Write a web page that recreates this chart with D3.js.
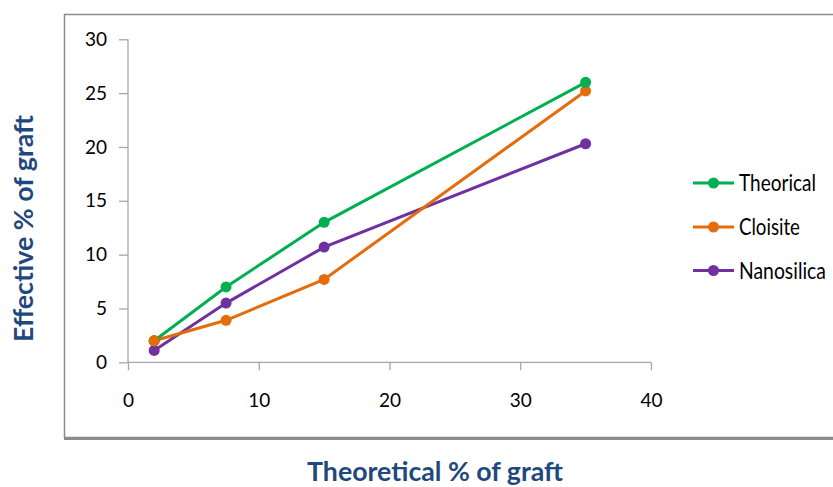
<!DOCTYPE html>
<html>
<head>
<meta charset="utf-8">
<script src="https://cdn.jsdelivr.net/npm/d3@7"></script>
<style>
  body { margin: 0; background: #fff; }
  text { font-family: Lato, "Open Sans", sans-serif; }
</style>
</head>
<body>
<script>
// Data
const xValues = [2, 7.5, 15, 35];
const theorical = [2, 7, 13, 26];
const cloisite = [2, 3.9, 7.7, 25.2];
const nanosilica = [1.1, 5.5, 10.7, 20.3];
const seriesNames = ["Theorical", "Cloisite", "Nanosilica"];
const seriesColors = ["#00b050", "#e46c0a", "#7030a0"];
const xTicks = [0, 10, 20, 30, 40];
const yTicks = [0, 5, 10, 15, 20, 25, 30];

const W = 833, H = 487;
const svg = d3.select("body").append("svg")
  .attr("width", W)
  .attr("height", H);

// squeeze a text horizontally to a given width (the source font is narrow)
function squeeze(sel, width) {
  const natural = sel.node().getComputedTextLength();
  return natural > 0 ? width / natural : 1;
}

// Outer chart box (runs off the right edge like the source)
svg.append("rect")
  .attr("x", 64.5).attr("y", 14.5)
  .attr("width", 800).attr("height", 423)
  .attr("fill", "none")
  .attr("stroke", "#8c8c8c")
  .attr("stroke-width", 1.5);
svg.append("line")
  .attr("x1", 64).attr("x2", W)
  .attr("y1", 438.5).attr("y2", 438.5)
  .attr("stroke", "#8c8c8c")
  .attr("stroke-width", 3);

// Scales
const x = d3.scaleLinear().domain([0, 40]).range([128, 651]);
const y = d3.scaleLinear().domain([0, 30]).range([362.3, 39.3]);

// Axes
const xAxis = svg.append("g")
  .attr("transform", "translate(0," + y(0) + ")")
  .call(d3.axisBottom(x).tickValues(xTicks).tickSize(8).tickPadding(23));
const yAxis = svg.append("g")
  .attr("transform", "translate(" + x(0) + ",0)")
  .call(d3.axisLeft(y).tickValues(yTicks).tickSize(9).tickPadding(12));

[xAxis, yAxis].forEach(function(g) {
  g.select(".domain").attr("stroke", "#a6a6a6").attr("stroke-width", 1.3);
  g.selectAll(".tick line").attr("stroke", "#a6a6a6").attr("stroke-width", 1.3);
  g.selectAll(".tick text")
    .attr("fill", "#000")
    .style("font-size", "19px")
    .style("font-family", "Lato, sans-serif");
});
xAxis.selectAll(".domain").attr("d", "M" + x(0) + ",0H" + x(40));
yAxis.selectAll(".domain").attr("d", "M0," + y(0) + "V" + y(30));

// Series
const series = [theorical, cloisite, nanosilica].map(function(vals, i) {
  return {
    name: seriesNames[i],
    color: seriesColors[i],
    points: vals.map(function(v, j) { return [xValues[j], v]; })
  };
});

const line = d3.line()
  .x(function(d) { return x(d[0]); })
  .y(function(d) { return y(d[1]); });

// draw in reverse so green/orange ends sit on top like the source
const drawOrder = [2, 1, 0];
drawOrder.forEach(function(i) {
  const s = series[i];
  svg.append("path")
    .datum(s.points)
    .attr("d", line)
    .attr("fill", "none")
    .attr("stroke", s.color)
    .attr("stroke-width", 3);
  svg.selectAll(null)
    .data(s.points)
    .enter()
    .append("circle")
    .attr("cx", function(d) { return x(d[0]); })
    .attr("cy", function(d) { return y(d[1]); })
    .attr("r", 5.5)
    .attr("fill", s.color);
});
// Cloisite first point sits on top of theorical at x=2
svg.append("circle")
  .attr("cx", x(series[1].points[0][0]))
  .attr("cy", y(series[1].points[0][1]))
  .attr("r", 5.5)
  .attr("fill", series[1].color);

// Legend
const legendY = [183, 227, 270.5];
const legendTextW = [77, 61, 87];
series.forEach(function(s, i) {
  const g = svg.append("g").attr("transform", "translate(693," + legendY[i] + ")");
  g.append("line")
    .attr("x1", 0).attr("x2", 41)
    .attr("stroke", s.color)
    .attr("stroke-width", 3);
  g.append("circle")
    .attr("cx", 20.5).attr("r", 5.5)
    .attr("fill", s.color);
  const t = g.append("text")
    .attr("dy", "0.35em")
    .style("font-size", "23px")
    .attr("fill", "#000")
    .text(s.name);
  t.attr("transform", "translate(46,0) scale(" + squeeze(t, legendTextW[i]) + ",1)");
});

// Axis titles
const xTitle = svg.append("text")
  .attr("text-anchor", "middle")
  .attr("fill", "#1f497d")
  .style("font-size", "26px")
  .style("font-weight", "bold")
  .text("Theoretical % of graft");
xTitle.attr("transform", "translate(435,481) scale(" + squeeze(xTitle, 256) + ",1)");

const yTitle = svg.append("text")
  .attr("text-anchor", "middle")
  .attr("fill", "#1f497d")
  .style("font-size", "27px")
  .style("font-weight", "bold")
  .text("Effective % of graft");
yTitle.attr("transform", "translate(33,228.5) rotate(-90) scale(" + squeeze(yTitle, 227) + ",1)");
</script>
</body>
</html>
